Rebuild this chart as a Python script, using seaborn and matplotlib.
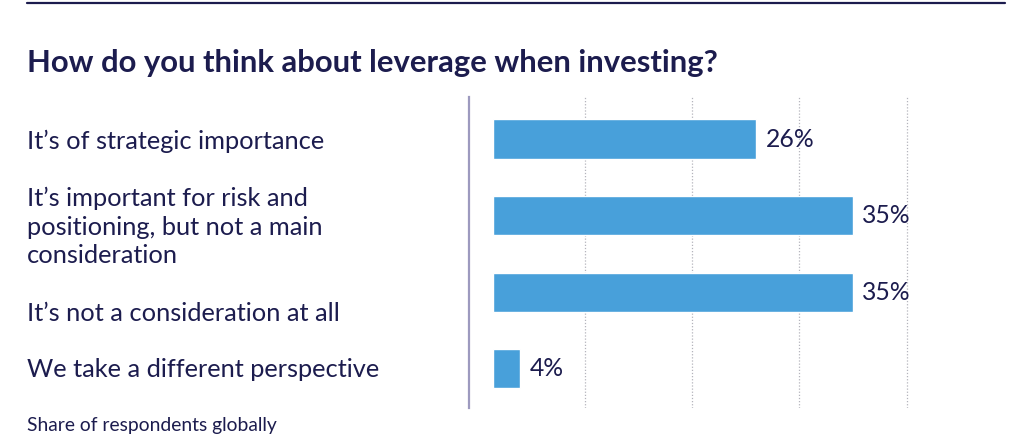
import matplotlib
matplotlib.use("Agg")
import matplotlib.pyplot as plt
import seaborn as sns
import pandas as pd

# data
categories = [
    "It’s of strategic importance",
    "It’s important for risk and\npositioning, but not a main\nconsideration",
    "It’s not a consideration at all",
    "We take a different perspective",
]
shares = [26, 35, 35, 4]
grid_ticks = [10, 20, 30, 40]
title = "How do you think about leverage when investing?"
footnote = "Share of respondents globally"

NAVY = "#1c1c4e"
BAR = "#48a0da"
W, H = 1024, 445

sns.set_theme(style="white")
plt.rcParams["font.family"] = ["Lato", "DejaVu Sans"]

df = pd.DataFrame({"category": categories, "share": shares})

fig = plt.figure(figsize=(W / 100, H / 100), dpi=100)
ax = fig.add_axes([469 / W, 1 - 408 / H, (920 - 469) / W, (408 - 97) / H])

sns.barplot(data=df, x="share", y="category", color=BAR, width=0.51,
            saturation=1, ax=ax, orient="h")

# bars start a little right of the axis line
bar_gap = 1.5
for p in ax.patches:
    w = p.get_width()
    p.set_x(bar_gap)
    p.set_width(w - bar_gap)

ax.set_xlim(-0.78, 41.25)
ax.set_ylim(3.516, -0.549)
ax.set_xlabel("")
ax.set_ylabel("")
ax.set_yticks([])
ax.set_xticks(grid_ticks)
ax.set_xticklabels([])
ax.tick_params(length=0)
for x in grid_ticks:
    ax.axvline(x, color="#b4b4bc", lw=0.9, ls=(0, (1, 1.5)), zorder=0)

for s in ["top", "right", "bottom"]:
    ax.spines[s].set_visible(False)
ax.spines["left"].set_color("#9d9abf")
ax.spines["left"].set_linewidth(1.6)

for i, v in enumerate(shares):
    ax.annotate(f"{v}%", (v, i), xytext=(6.5, 0), textcoords="offset points",
                va="center", ha="left", fontsize=17.8, color=NAVY)

# category labels, drawn line by line at fixed baselines
label_baselines = [149.3, 206, 320.7, 377.3]
line_gap = 28.7
for text, base in zip(categories, label_baselines):
    for k, line in enumerate(text.split("\n")):
        fig.text(27 / W, 1 - (base + k * line_gap) / H, line, ha="left",
                 va="baseline", fontsize=18.3, color=NAVY)

fig.text(27 / W, 1 - 71.7 / H, title, ha="left", va="baseline",
         fontsize=22.3, fontweight="bold", color=NAVY)
fig.text(27 / W, 1 - 431 / H, footnote, ha="left", va="baseline",
         fontsize=13.9, color=NAVY)

fig.add_artist(plt.Line2D([27 / W, 1005 / W], [1 - 3 / H, 1 - 3 / H],
                          color=NAVY, lw=1.6))

fig.savefig("out.png", dpi=100)
